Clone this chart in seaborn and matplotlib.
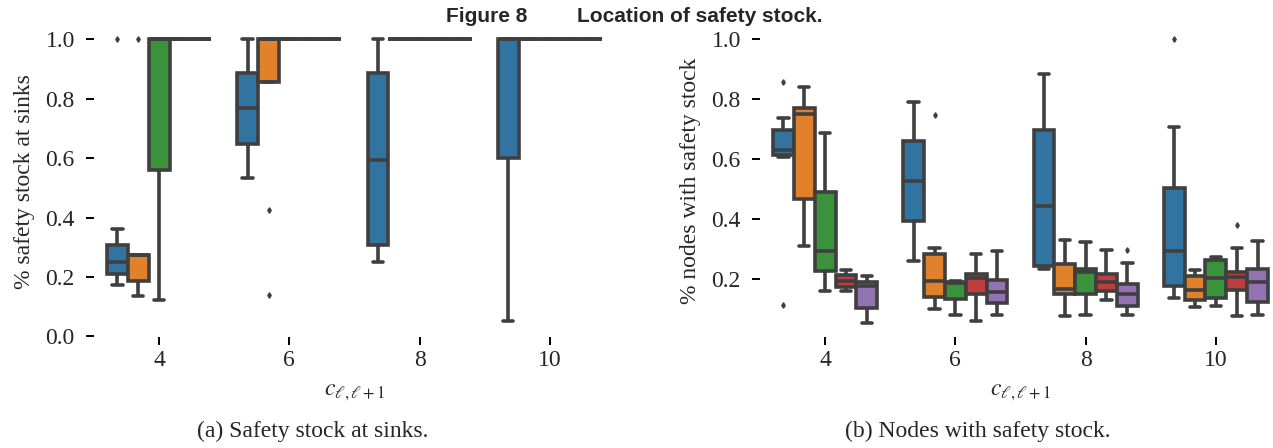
import matplotlib
matplotlib.use("Agg")
import matplotlib.pyplot as plt
import numpy as np
import pandas as pd
import seaborn as sns

# ---------------- data ----------------
categories = [4, 6, 8, 10]
hue_levels = ["1", "2", "3", "4", "5"]
tick_labels = ["4", "6", "8", "10"]

# (a) share of safety stock held at sinks: one sample list per hue level
sinks_4 = [
    [0.173, 0.19, 0.211, 0.23, 0.25, 0.28, 0.307, 0.36, 1.0],
    [0.136, 0.16, 0.187, 0.25, 0.274, 0.274, 0.274, 0.274, 1.0],
    [0.122, 0.40, 0.559, 0.90, 1.0, 1.0, 1.0, 1.0, 1.0],
    [1.0, 1.0, 1.0, 1.0, 1.0],
    [1.0, 1.0, 1.0, 1.0, 1.0],
]
sinks_6 = [
    [0.534, 0.60, 0.649, 0.70, 0.767, 0.82, 0.886, 0.95, 1.0],
    [0.139, 0.424, 0.856, 0.95, 1.0, 1.0, 1.0, 1.0, 1.0],
    [1.0, 1.0, 1.0, 1.0, 1.0],
    [1.0, 1.0, 1.0, 1.0, 1.0],
    [1.0, 1.0, 1.0, 1.0, 1.0],
]
sinks_8 = [
    [0.252, 0.28, 0.307, 0.45, 0.593, 0.75, 0.888, 0.95, 1.0],
    [1.0, 1.0, 1.0, 1.0, 1.0],
    [1.0, 1.0, 1.0, 1.0, 1.0],
    [1.0, 1.0, 1.0, 1.0, 1.0],
    [1.0, 1.0, 1.0, 1.0, 1.0],
]
sinks_10 = [
    [0.052, 0.30, 0.601, 0.90, 1.0, 1.0, 1.0, 1.0, 1.0],
    [1.0, 1.0, 1.0, 1.0, 1.0],
    [1.0, 1.0, 1.0, 1.0, 1.0],
    [1.0, 1.0, 1.0, 1.0, 1.0],
    [1.0, 1.0, 1.0, 1.0, 1.0],
]

# (b) share of nodes holding safety stock
nodes_4 = [
    [0.111, 0.606, 0.614, 0.62, 0.629, 0.66, 0.698, 0.738, 0.856],
    [0.31, 0.40, 0.466, 0.60, 0.752, 0.76, 0.77, 0.80, 0.839],
    [0.159, 0.19, 0.226, 0.26, 0.291, 0.39, 0.489, 0.60, 0.688],
    [0.159, 0.165, 0.173, 0.183, 0.192, 0.20, 0.211, 0.22, 0.229],
    [0.052, 0.08, 0.103, 0.14, 0.175, 0.183, 0.19, 0.20, 0.209],
]
nodes_6 = [
    [0.259, 0.33, 0.394, 0.46, 0.526, 0.59, 0.659, 0.72, 0.791],
    [0.097, 0.12, 0.139, 0.16, 0.192, 0.24, 0.284, 0.304, 0.748],
    [0.078, 0.10, 0.131, 0.16, 0.186, 0.188, 0.19, 0.191, 0.192],
    [0.06, 0.10, 0.148, 0.18, 0.203, 0.21, 0.215, 0.25, 0.282],
    [0.08, 0.10, 0.12, 0.14, 0.155, 0.175, 0.195, 0.24, 0.294],
]
nodes_8 = [
    [0.232, 0.238, 0.243, 0.34, 0.442, 0.57, 0.698, 0.79, 0.884],
    [0.075, 0.11, 0.148, 0.155, 0.164, 0.20, 0.25, 0.29, 0.329],
    [0.078, 0.11, 0.15, 0.19, 0.222, 0.227, 0.232, 0.28, 0.324],
    [0.128, 0.145, 0.16, 0.175, 0.19, 0.20, 0.216, 0.26, 0.295],
    [0.078, 0.09, 0.108, 0.13, 0.148, 0.165, 0.182, 0.254, 0.297],
]
nodes_10 = [
    [0.134, 0.15, 0.176, 0.23, 0.293, 0.40, 0.503, 0.707, 1.0],
    [0.106, 0.115, 0.128, 0.145, 0.161, 0.185, 0.209, 0.22, 0.228],
    [0.108, 0.12, 0.136, 0.17, 0.203, 0.235, 0.263, 0.27, 0.273],
    [0.075, 0.12, 0.162, 0.19, 0.206, 0.21, 0.222, 0.302, 0.379],
    [0.078, 0.10, 0.123, 0.16, 0.19, 0.21, 0.232, 0.28, 0.327],
]

sinks = [sinks_4, sinks_6, sinks_8, sinks_10]
nodes = [nodes_4, nodes_6, nodes_8, nodes_10]


def to_long(groups):
    rows = []
    for cat, per_hue in zip(categories, groups):
        for h, vals in zip(hue_levels, per_hue):
            for v in vals:
                rows.append({"c": cat, "h": h, "v": v})
    return pd.DataFrame(rows)


df_a = to_long(sinks)
df_b = to_long(nodes)

# ---------------- style ----------------
sns.set_style("ticks")
plt.rcParams["font.family"] = ["Liberation Serif", "DejaVu Serif"]
plt.rcParams["mathtext.fontset"] = "stix"

W, H = 1273, 448
fig = plt.figure(figsize=(W / 100, H / 100), dpi=100)

ax_w = 521 / W
ax_b = (H - 337.3) / H
ax_h = 312.2 / H
ax_a = fig.add_axes([94 / W, ax_b, ax_w, ax_h])
ax_bb = fig.add_axes([760 / W, ax_b, ax_w, ax_h])

line_col = "#3f3f3f"
box_kws = dict(
    x="c", y="v", hue="h", hue_order=hue_levels, order=categories,
    palette="tab10", saturation=0.75, width=0.8, linecolor=line_col,
    linewidth=2.6, legend=False,
    flierprops={"marker": "d", "markersize": 2.8,
                "markerfacecolor": line_col, "markeredgecolor": line_col},
)

sns.boxplot(data=df_a, ax=ax_a, **box_kws)
sns.boxplot(data=df_b, ax=ax_bb, **box_kws)

fs = 17
for ax, ylab, ylim, yt in [
    (ax_a, "% safety stock at sinks", (-0.003, 1.0475), [0.0, 0.2, 0.4, 0.6, 0.8, 1.0]),
    (ax_bb, "% nodes with safety stock", (0.004, 1.0475), [0.2, 0.4, 0.6, 0.8, 1.0]),
]:
    sns.despine(ax=ax, left=True, bottom=True)
    ax.set_xlim(-0.5, 3.5)
    ax.set_ylim(*ylim)
    ax.set_yticks(yt)
    ax.set_yticklabels([f"{t:.1f}" for t in yt])
    ax.set_xticks(range(len(categories)))
    ax.set_xticklabels(tick_labels)
    ax.tick_params(axis="y", length=5.8, width=1.4, color="black", pad=8,
                   labelsize=fs)
    ax.tick_params(axis="x", length=5.8, width=1.4, color="black", pad=3,
                   labelsize=fs)
    ax.set_xlabel("")
    ax.set_ylabel(ylab, fontsize=fs)
    ax.yaxis.set_label_coords((35 - 94) / 521, 0.5)

# x labels
fig.text(354.5 / W, (H - 395) / H, r"$c_{\ell,\ell+1}$", ha="center",
         va="baseline", fontsize=fs)
fig.text(1020.5 / W, (H - 395) / H, r"$c_{\ell,\ell+1}$", ha="center",
         va="baseline", fontsize=fs)

# captions
fig.text(197 / W, (H - 437) / H, "(a) Safety stock at sinks.", ha="left",
         va="baseline", fontsize=fs)
fig.text(845 / W, (H - 437) / H, "(b) Nodes with safety stock.", ha="left",
         va="baseline", fontsize=fs)

# title
fig.text(446 / W, (H - 21.7) / H, "Figure 8", ha="left", va="baseline",
         fontsize=15, fontweight="bold", family="Liberation Sans")
fig.text(577 / W, (H - 21.7) / H, "Location of safety stock.", ha="left",
         va="baseline", fontsize=15, fontweight="bold", family="Liberation Sans")

fig.savefig("out.png", dpi=100)
